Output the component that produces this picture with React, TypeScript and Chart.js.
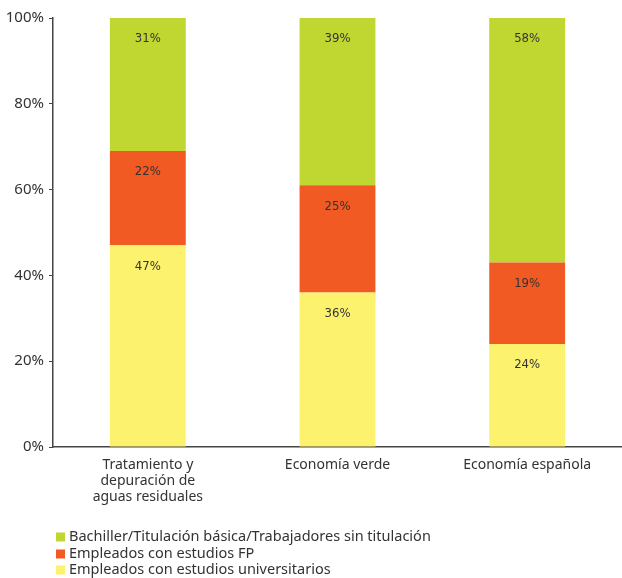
import React, { useEffect, useRef } from "react";
import { Chart, registerables } from "chart.js";
Chart.register(...registerables);

const categories: (string | string[])[] = [
  ["Tratamiento y", "depuración de", "aguas residuales"],
  "Economía verde",
  "Economía española",
];
const universitarios = [47, 36, 24];
const fp = [22, 25, 19];
const bachiller = [31, 39, 58];
const yTicks = [0, 20, 40, 60, 80, 100];

const seriesNames = [
  "Bachiller/Titulación básica/Trabajadores sin titulación",
  "Empleados con estudios FP",
  "Empleados con estudios universitarios",
];
const GREEN = "#C0D731";
const RED = "#F15A22";
const YELLOW = "#FDF26E";
const FONT = "'Noto Sans', sans-serif";

const labelPlugin = {
  id: "segLabels",
  afterDatasetsDraw(chart: any) {
    const ctx = chart.ctx;
    ctx.save();
    ctx.font = "13px 'Liberation Sans Narrow', 'DejaVu Sans Condensed', sans-serif";
    ctx.fillStyle = "#333";
    ctx.textAlign = "center";
    ctx.textBaseline = "middle";
    chart.data.datasets.forEach((ds: any, i: number) => {
      const meta = chart.getDatasetMeta(i);
      meta.data.forEach((bar: any, j: number) => {
        const top = Math.max(bar.y, chart.chartArea.top);
        ctx.fillText(ds.data[j] + "%", bar.x, top + 21);
      });
    });
    ctx.restore();
  },
};

const legendPlugin = {
  id: "customLegend",
  afterDraw(chart: any) {
    const ctx = chart.ctx;
    ctx.save();
    const items = [
      { name: seriesNames[0], color: GREEN },
      { name: seriesNames[1], color: RED },
      { name: seriesNames[2], color: YELLOW },
    ];
    const ys = [537, 554, 570];
    ctx.font = "14.5px " + FONT;
    ctx.textBaseline = "middle";
    ctx.textAlign = "left";
    items.forEach((it, i) => {
      ctx.fillStyle = it.color;
      ctx.fillRect(56, ys[i] - 4.5, 9, 9);
      ctx.fillStyle = "#333";
      ctx.fillText(it.name, 69, ys[i]);
    });
    ctx.restore();
  },
};

export default function App() {
  const ref = useRef<HTMLCanvasElement>(null);
  useEffect(() => {
    if (!ref.current) return;
    const chart = new Chart(ref.current, {
      type: "bar",
      data: {
        labels: categories as any,
        datasets: [
          { label: seriesNames[2], data: universitarios, backgroundColor: YELLOW, barPercentage: 0.4, categoryPercentage: 1 },
          { label: seriesNames[1], data: fp, backgroundColor: RED, barPercentage: 0.4, categoryPercentage: 1 },
          { label: seriesNames[0], data: bachiller, backgroundColor: GREEN, barPercentage: 0.4, categoryPercentage: 1 },
        ],
      },
      options: {
        animation: false,
        responsive: false,
        maintainAspectRatio: false,
        layout: { padding: { top: 18, right: 0, left: 0, bottom: 0 } },
        plugins: { legend: { display: false }, tooltip: { enabled: false } },
        scales: {
          x: {
            stacked: true,
            grid: { display: false },
            border: { display: true, color: "#444", width: 1.5 },
            ticks: { color: "#333", font: { family: FONT, size: 14, lineHeight: 1.15 }, padding: 2, maxRotation: 0 },
            afterFit: (s: any) => { s.height = 131; },
          },
          y: {
            stacked: true,
            min: 0,
            max: 100,
            afterBuildTicks: (s: any) => { s.ticks = yTicks.map((v) => ({ value: v })); },
            grid: { drawOnChartArea: false, drawTicks: true, tickLength: 4, color: "#444" },
            border: { display: true, color: "#444", width: 1.5 },
            ticks: { color: "#333", font: { family: FONT, size: 15 }, padding: 5, callback: (v: any) => v + "%" },
            afterFit: (s: any) => { s.width = 53; },
          },
        },
      },
      plugins: [labelPlugin, legendPlugin],
    });
    return () => chart.destroy();
  }, []);
  return (
    <div style={{ position: "absolute", left: 0, top: 0, width: 622, height: 578 }}>
      <canvas ref={ref} width={622} height={578} style={{ width: 622, height: 578 }} />
    </div>
  );
}
